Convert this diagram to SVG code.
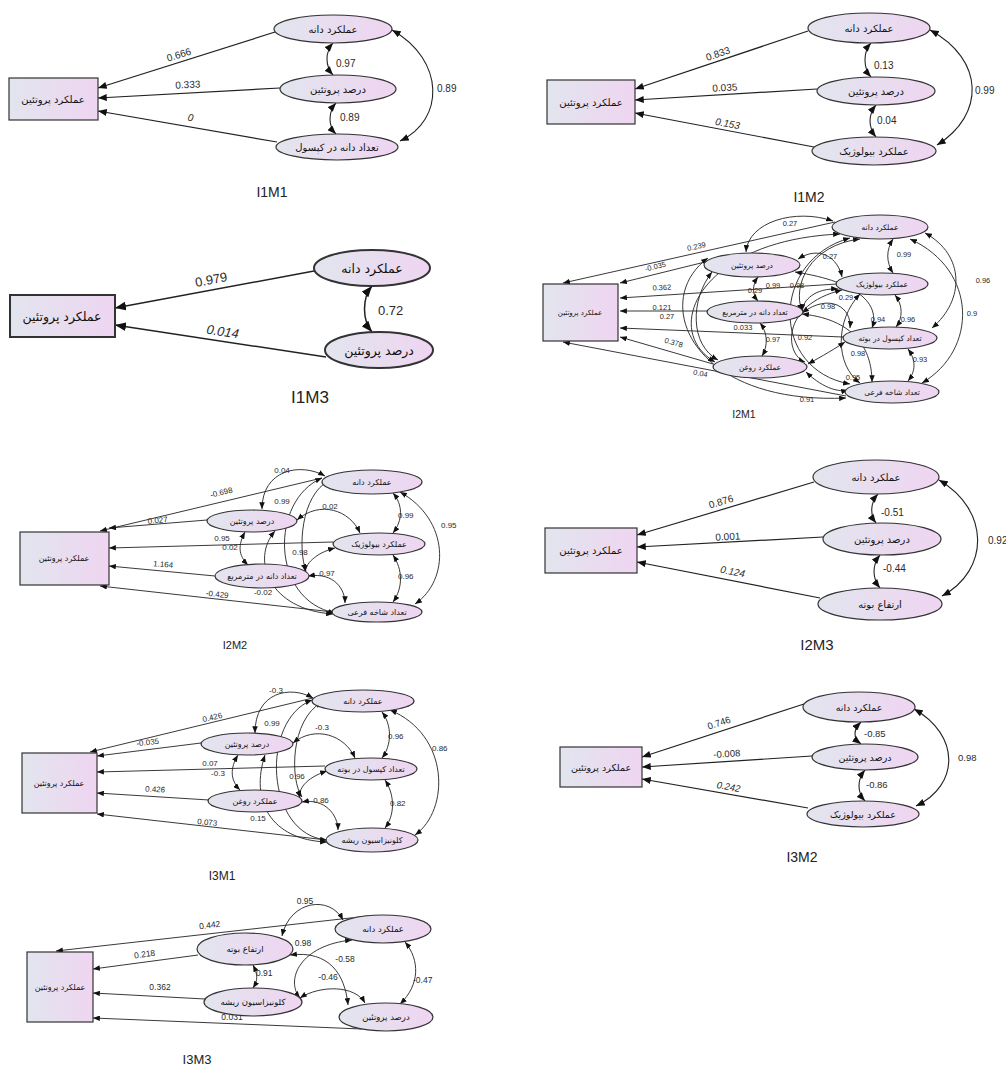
<svg xmlns="http://www.w3.org/2000/svg" width="1006" height="1073" viewBox="0 0 1006 1073">
<defs>
<linearGradient id="g" x1="0" y1="0" x2="1" y2="0">
<stop offset="0" stop-color="#e2e5ee"/>
<stop offset="1" stop-color="#efd5f1"/>
</linearGradient>
<marker id="ah" viewBox="0 0 10 8" refX="10" refY="4" markerWidth="9" markerHeight="7" orient="auto-start-reverse" markerUnits="userSpaceOnUse"><path d="M0,0 L10,4 L0,8 z" fill="#111"/></marker>
<marker id="as" viewBox="0 0 10 8" refX="10" refY="4" markerWidth="7" markerHeight="5.5" orient="auto-start-reverse" markerUnits="userSpaceOnUse"><path d="M0,0 L10,4 L0,8 z" fill="#111"/></marker>
<marker id="al" viewBox="0 0 10 8" refX="10" refY="4" markerWidth="11" markerHeight="9" orient="auto-start-reverse" markerUnits="userSpaceOnUse"><path d="M0,0 L10,4 L0,8 z" fill="#111"/></marker>
</defs>
<style>
.n{fill:url(#g);stroke:#333;stroke-width:1.2}
.nb{fill:url(#g);stroke:#333;stroke-width:2}
.fa{font-family:"DejaVu Sans",sans-serif;fill:#111;text-anchor:middle}
.num{font-family:"Liberation Sans",Arial,sans-serif;fill:#2a2a2a;text-anchor:middle}
.s{text-anchor:start}
.it{font-style:italic}
.t{font-family:"Liberation Sans",Arial,sans-serif;fill:#222;text-anchor:middle}
.r{fill:none;stroke:#222;stroke-width:1.2;marker-end:url(#ah)}
.c{fill:none;stroke:#222;stroke-width:1.1;marker-start:url(#ah);marker-end:url(#ah)}
.rs{fill:none;stroke:#222;stroke-width:0.9;marker-end:url(#as)}
.cs{fill:none;stroke:#222;stroke-width:0.9;marker-start:url(#as);marker-end:url(#as)}
.rl{fill:none;stroke:#222;stroke-width:1.5;marker-end:url(#al)}
.cl{fill:none;stroke:#222;stroke-width:1.5;marker-start:url(#al);marker-end:url(#al)}
</style>
<rect width="1006" height="1073" fill="#ffffff"/>

<!-- ===== I1M1 ===== -->
<g id="I1M1">
<g id="I1M1-connectors">
<path class="r" d="M275,32 L98,88"/>
<path class="r" d="M280,88 L98,98"/>
<path class="r" d="M277,142 L98,111"/>
<path class="c" d="M333,43 C325,52 325,66 333,75"/>
<path class="c" d="M336,103 C328,112 328,126 336,134"/>
<path class="c" d="M392,30 C445,60 445,120 400,141"/>
<g font-size="10" class="num">
<text x="180" y="58" transform="rotate(-17.6 180 58)">0.666</text>
<text x="188" y="88" transform="rotate(-3 188 88)">0.333</text>
<text x="190" y="121" class="it" transform="rotate(10 190 121)">0</text>
<text x="336" y="67" class="s">0.97</text>
<text x="340" y="121" class="s">0.89</text>
<text x="437" y="92" class="s">0.89</text>
</g>
</g>
<g id="I1M1-out"><rect class="n" x="9" y="78" width="89" height="42"/><text class="fa" x="53" y="103" font-size="10">عملکرد پروتئین</text></g>
<g id="I1M1-e1"><ellipse class="n" cx="333" cy="29" rx="59" ry="14"/><text class="fa" x="333" y="33" font-size="10">عملکرد دانه</text></g>
<g id="I1M1-e2"><ellipse class="n" cx="338" cy="89" rx="58" ry="14"/><text class="fa" x="338" y="93" font-size="10">درصد پروتئین</text></g>
<g id="I1M1-e3"><ellipse class="n" cx="337" cy="147" rx="61" ry="13"/><text class="fa" x="337" y="151" font-size="10">تعداد دانه در کپسول</text></g>
<text class="t" x="272" y="197" font-size="14">I1M1</text>
</g>

<!-- ===== I1M2 ===== -->
<g id="I1M2">
<g id="I1M2-connectors">
<path class="r" d="M808,31 L635,89"/>
<path class="r" d="M817,89 L635,100"/>
<path class="r" d="M814,147 L635,113"/>
<path class="c" d="M871,43 C863,52 863,68 871,77"/>
<path class="c" d="M876,105 C868,115 868,127 876,137"/>
<path class="c" d="M930,30 C985,60 985,115 937,145"/>
<g font-size="10" class="num">
<text x="719" y="57" transform="rotate(-18.5 719 57)">0.833</text>
<text x="725" y="91" transform="rotate(-3 725 91)">0.035</text>
<text x="727" y="127" class="it" transform="rotate(10 727 127)">0.153</text>
<text x="874" y="69" class="s">0.13</text>
<text x="877" y="124" class="s">0.04</text>
<text x="975" y="94" class="s">0.99</text>
</g>
</g>
<g id="I1M2-out"><rect class="n" x="547" y="80" width="88" height="44"/><text class="fa" x="591" y="106" font-size="10">عملکرد پروتئین</text></g>
<g id="I1M2-e1"><ellipse class="n" cx="869" cy="28" rx="61" ry="15"/><text class="fa" x="869" y="32" font-size="10">عملکرد دانه</text></g>
<g id="I1M2-e2"><ellipse class="n" cx="876" cy="91" rx="59" ry="14"/><text class="fa" x="876" y="95" font-size="10">درصد پروتئین</text></g>
<g id="I1M2-e3"><ellipse class="n" cx="874" cy="151" rx="62" ry="14"/><text class="fa" x="874" y="155" font-size="10">عملکرد بیولوژیک</text></g>
<text class="t" x="809" y="202" font-size="14">I1M2</text>
</g>

<!-- ===== I1M3 ===== -->
<g id="I1M3">
<g id="I1M3-connectors">
<path class="rl" d="M314,271 L115,308"/>
<path class="rl" d="M326,357 L115,325"/>
<path class="cl" d="M372,286 C362,298 362,320 372,332"/>
<g font-size="13" class="num">
<text x="212" y="284" transform="rotate(-10.5 212 284)">0.979</text>
<text x="222" y="336" class="it" transform="rotate(8.7 222 336)">0.014</text>
<text x="378" y="315" class="s">0.72</text>
</g>
</g>
<g id="I1M3-out"><rect class="nb" x="10" y="295" width="105" height="42"/><text class="fa" x="62" y="321" font-size="12.5">عملکرد پروتئین</text></g>
<g id="I1M3-e1"><ellipse class="nb" cx="372" cy="268" rx="58" ry="18"/><text class="fa" x="372" y="273" font-size="12.5">عملکرد دانه</text></g>
<g id="I1M3-e2"><ellipse class="nb" cx="379" cy="350" rx="54" ry="18"/><text class="fa" x="379" y="355" font-size="12.5">درصد پروتئین</text></g>
<text class="t" x="310" y="403" font-size="17">I1M3</text>
</g>

<!-- ===== I2M1 ===== -->
<g id="I2M1">
<g id="I2M1-connectors">
<path class="rs" d="M835,222 L563,283"/>
<path class="rs" d="M705,262 L620,283"/>
<path class="rs" d="M837,284 L620,298"/>
<path class="rs" d="M707,311 L620,311"/>
<path class="rs" d="M843,337 L620,328"/>
<path class="rs" d="M713,364 L620,337"/>
<path class="rs" d="M846,396 L563,342"/>
<path class="cs" d="M833,221 C795,208 748,222 746,252"/>
<path class="cs" d="M893,239 C886,250 886,262 893,273"/>
<path class="cs" d="M925,233 C965,255 965,300 932,328"/>
<path class="cs" d="M910,239 C978,270 978,350 922,383"/>
<path class="cs" d="M758,277 C752,285 752,294 758,301"/>
<path class="cs" d="M798,259 C820,245 838,258 842,277"/>
<path class="cs" d="M760,323 C768,333 768,346 762,356"/>
<path class="cs" d="M895,295 C903,305 903,318 896,327"/>
<path class="cs" d="M908,349 C916,360 916,371 908,381"/>
<path class="cs" d="M860,239 C810,245 792,285 802,311"/>
<path class="cs" d="M838,289 C815,288 803,300 802,311"/>
<path class="cs" d="M802,313 C830,292 852,308 850,328"/>
<path class="cs" d="M795,272 C860,282 880,305 872,328"/>
<path class="cs" d="M708,258 C650,300 690,405 846,398"/>
<path class="cs" d="M806,372 C825,390 840,392 848,390"/>
<path class="cs" d="M840,234 C700,240 660,330 715,362"/>
<path class="cs" d="M712,272 C690,300 690,345 718,360"/>
<path class="cs" d="M842,290 C780,305 785,355 805,362"/>
<path class="cs" d="M802,314 C860,320 872,355 872,382"/>
<path class="cs" d="M845,342 C830,352 815,360 808,364"/>
<path class="cs" d="M860,294 C835,320 835,365 860,383"/>
<path class="cs" d="M850,238 C770,260 770,370 850,384"/>
<g font-size="7.5" class="num">
<text x="790" y="226">0.27</text>
<text x="697" y="249" transform="rotate(-12.6 697 249)">0.239</text>
<text x="656" y="269" transform="rotate(-14 656 269)">-0.035</text>
<text x="785" y="264">0.97</text>
<text x="830" y="259">0.27</text>
<text x="904" y="257">0.99</text>
<text x="983" y="283">0.96</text>
<text x="662" y="290" transform="rotate(-3.5 662 290)">0.362</text>
<text x="773" y="288">0.99</text>
<text x="797" y="288">0.98</text>
<text x="755" y="293">0.29</text>
<text x="846" y="300">0.29</text>
<text x="662" y="310">0.121</text>
<text x="667" y="319">0.27</text>
<text x="828" y="309">0.98</text>
<text x="878" y="322">0.94</text>
<text x="908" y="322">0.96</text>
<text x="972" y="316">0.9</text>
<text x="743" y="330">0.033</text>
<text x="805" y="340">0.92</text>
<text x="773" y="342">0.97</text>
<text x="673" y="345" transform="rotate(16 673 345)">0.378</text>
<text x="858" y="356">0.98</text>
<text x="920" y="362">0.93</text>
<text x="700" y="376" transform="rotate(11 700 376)">0.04</text>
<text x="853" y="380">0.95</text>
<text x="807" y="402">0.91</text>
</g>
</g>
<g id="I2M1-out"><rect class="n" x="543" y="284" width="75" height="57"/><text class="fa" x="580" y="315" font-size="7">عملکرد پروتئین</text></g>
<g id="I2M1-a"><ellipse class="n" cx="880" cy="227" rx="48" ry="12"/><text class="fa" x="880" y="230" font-size="7.5">عملکرد دانه</text></g>
<g id="I2M1-b"><ellipse class="n" cx="752" cy="265" rx="48" ry="12"/><text class="fa" x="752" y="268" font-size="7.5">درصد پروتئین</text></g>
<g id="I2M1-c"><ellipse class="n" cx="882" cy="284" rx="46" ry="11"/><text class="fa" x="882" y="287" font-size="7.5">عملکرد بیولوژیک</text></g>
<g id="I2M1-d"><ellipse class="n" cx="755" cy="312" rx="48" ry="11"/><text class="fa" x="755" y="315" font-size="7.5">تعداد دانه در مترمربع</text></g>
<g id="I2M1-e"><ellipse class="n" cx="890" cy="338" rx="47" ry="11"/><text class="fa" x="890" y="341" font-size="7.5">تعداد کپسول در بوته</text></g>
<g id="I2M1-f"><ellipse class="n" cx="760" cy="367" rx="47" ry="11"/><text class="fa" x="760" y="370" font-size="7.5">عملکرد روغن</text></g>
<g id="I2M1-g"><ellipse class="n" cx="892" cy="392" rx="47" ry="11"/><text class="fa" x="892" y="395" font-size="7.5">تعداد شاخه فرعی</text></g>
<text class="t" x="744" y="418" font-size="10.5">I2M1</text>
</g>

<!-- ===== I2M2 ===== -->
<g id="I2M2">
<g id="I2M2-connectors">
<path class="rs" d="M322,478 L100,531"/>
<path class="rs" d="M207,520 L109,528"/>
<path class="rs" d="M333,542 L109,548"/>
<path class="rs" d="M215,576 L109,566"/>
<path class="rs" d="M333,612 L100,586"/>
<path class="cs" d="M325,476 C300,462 262,470 262,509"/>
<path class="cs" d="M393,493 C403,505 403,520 393,533"/>
<path class="cs" d="M400,492 C450,520 450,580 415,604"/>
<path class="cs" d="M297,520 C320,500 350,510 360,533"/>
<path class="cs" d="M245,532 C238,545 238,555 248,565"/>
<path class="cs" d="M393,555 C403,570 403,588 393,602"/>
<path class="cs" d="M322,478 C270,500 270,600 335,613"/>
<path class="cs" d="M335,548 C315,553 305,565 305,572"/>
<path class="cs" d="M308,576 C335,572 345,590 345,603"/>
<path class="cs" d="M275,531 C250,560 270,610 333,614"/>
<path class="cs" d="M330,480 C300,495 298,550 306,571"/>
<g font-size="8" class="num">
<text x="222" y="495" transform="rotate(-13.4 222 495)">-0.698</text>
<text x="158" y="523" transform="rotate(-6 158 523)">0.027</text>
<text x="222" y="541">0.95</text>
<text x="163" y="567" transform="rotate(5 163 567)">1.164</text>
<text x="217" y="597" transform="rotate(6.4 217 597)">-0.429</text>
<text x="282" y="473">0.04</text>
<text x="282" y="504">0.99</text>
<text x="330" y="509">0.02</text>
<text x="398" y="518" class="s">0.99</text>
<text x="441" y="528" class="s">0.95</text>
<text x="230" y="550">0.02</text>
<text x="300" y="555">0.98</text>
<text x="327" y="576">0.97</text>
<text x="398" y="579" class="s">0.96</text>
<text x="263" y="595">-0.02</text>
</g>
</g>
<g id="I2M2-out"><rect class="n" x="20" y="532" width="89" height="53"/><text class="fa" x="64" y="561" font-size="8">عملکرد پروتئین</text></g>
<g id="I2M2-a"><ellipse class="n" cx="372" cy="482" rx="50" ry="12"/><text class="fa" x="372" y="485" font-size="8">عملکرد دانه</text></g>
<g id="I2M2-b"><ellipse class="n" cx="252" cy="521" rx="45" ry="11"/><text class="fa" x="252" y="524" font-size="8">درصد پروتئین</text></g>
<g id="I2M2-c"><ellipse class="n" cx="379" cy="544" rx="46" ry="11"/><text class="fa" x="379" y="547" font-size="8">عملکرد بیولوژیک</text></g>
<g id="I2M2-d"><ellipse class="n" cx="262" cy="576" rx="47" ry="12"/><text class="fa" x="262" y="579" font-size="8">تعداد دانه در مترمربع</text></g>
<g id="I2M2-e"><ellipse class="n" cx="377" cy="612" rx="45" ry="10"/><text class="fa" x="377" y="615" font-size="8">تعداد شاخه فرعی</text></g>
<text class="t" x="235" y="649" font-size="11">I2M2</text>
</g>

<!-- ===== I2M3 ===== -->
<g id="I2M3">
<g id="I2M3-connectors">
<path class="r" d="M814,482 L637,535"/>
<path class="r" d="M823,537 L637,547"/>
<path class="r" d="M820,598 L637,562"/>
<path class="c" d="M878,494 C870,503 870,515 876,523"/>
<path class="c" d="M880,555 C872,565 872,578 880,588"/>
<path class="c" d="M939,480 C990,510 990,570 942,596"/>
<g font-size="10" class="num">
<text x="722" y="505" transform="rotate(-16.7 722 505)">0.876</text>
<text x="728" y="540" transform="rotate(-3 728 540)">0.001</text>
<text x="732" y="575" class="it" transform="rotate(11 732 575)">0.124</text>
<text x="881" y="516" class="s">-0.51</text>
<text x="883" y="572" class="s">-0.44</text>
<text x="988" y="544" class="s">0.92</text>
</g>
</g>
<g id="I2M3-out"><rect class="n" x="545" y="528" width="92" height="45"/><text class="fa" x="591" y="554" font-size="10">عملکرد پروتئین</text></g>
<g id="I2M3-a"><ellipse class="n" cx="876" cy="477" rx="63" ry="17"/><text class="fa" x="876" y="481" font-size="10">عملکرد دانه</text></g>
<g id="I2M3-b"><ellipse class="n" cx="882" cy="539" rx="59" ry="16"/><text class="fa" x="882" y="543" font-size="10">درصد پروتئین</text></g>
<g id="I2M3-c"><ellipse class="n" cx="880" cy="604" rx="62" ry="16"/><text class="fa" x="880" y="608" font-size="10">ارتفاع بوته</text></g>
<text class="t" x="817" y="650" font-size="15">I2M3</text>
</g>

<!-- ===== I3M1 ===== -->
<g id="I3M1">
<g id="I3M1-connectors">
<path class="rs" d="M313,698 L90,752"/>
<path class="rs" d="M201,743 L97,756"/>
<path class="rs" d="M325,766 L97,772"/>
<path class="rs" d="M209,800 L97,793"/>
<path class="rs" d="M327,840 L97,814"/>
<path class="cs" d="M313,698 C290,685 255,692 255,733"/>
<path class="cs" d="M382,712 C392,725 392,745 382,758"/>
<path class="cs" d="M390,710 C450,735 450,810 415,835"/>
<path class="cs" d="M293,743 C315,725 345,735 355,758"/>
<path class="cs" d="M238,755 C230,768 230,780 240,790"/>
<path class="cs" d="M385,780 C395,795 395,815 385,828"/>
<path class="cs" d="M312,700 C260,720 265,835 327,840"/>
<path class="cs" d="M327,771 C305,778 298,790 300,798"/>
<path class="cs" d="M302,802 C325,798 338,815 338,830"/>
<path class="cs" d="M265,755 C250,800 270,840 327,842"/>
<path class="cs" d="M322,702 C290,720 290,780 302,797"/>
<g font-size="8" class="num">
<text x="213" y="720" transform="rotate(-13.6 213 720)">0.426</text>
<text x="148" y="745" transform="rotate(-6 148 745)">-0.035</text>
<text x="210" y="766">0.07</text>
<text x="155" y="792" transform="rotate(3.5 155 792)">0.426</text>
<text x="207" y="825" transform="rotate(6 207 825)">0.073</text>
<text x="276" y="693">-0.3</text>
<text x="272" y="726">0.99</text>
<text x="322" y="730">-0.3</text>
<text x="388" y="739" class="s">0.96</text>
<text x="432" y="751" class="s">0.86</text>
<text x="218" y="776">-0.3</text>
<text x="297" y="779">0.96</text>
<text x="321" y="803">0.86</text>
<text x="390" y="806" class="s">0.82</text>
<text x="258" y="821">0.15</text>
</g>
</g>
<g id="I3M1-out"><rect class="n" x="22" y="753" width="75" height="60"/><text class="fa" x="59" y="786" font-size="8">عملکرد پروتئین</text></g>
<g id="I3M1-a"><ellipse class="n" cx="363" cy="701" rx="51" ry="11"/><text class="fa" x="363" y="704" font-size="8">عملکرد دانه</text></g>
<g id="I3M1-b"><ellipse class="n" cx="247" cy="744" rx="46" ry="11"/><text class="fa" x="247" y="747" font-size="8">درصد پروتئین</text></g>
<g id="I3M1-c"><ellipse class="n" cx="371" cy="769" rx="46" ry="11"/><text class="fa" x="371" y="772" font-size="8">تعداد کپسول در بوته</text></g>
<g id="I3M1-d"><ellipse class="n" cx="255" cy="801" rx="47" ry="11"/><text class="fa" x="255" y="804" font-size="8">عملکرد روغن</text></g>
<g id="I3M1-e"><ellipse class="n" cx="372" cy="840" rx="46" ry="12"/><text class="fa" x="372" y="843" font-size="8">کلونیزاسیون ریشه</text></g>
<text class="t" x="222" y="880" font-size="12">I3M1</text>
</g>

<!-- ===== I3M2 ===== -->
<g id="I3M2">
<g id="I3M2-connectors">
<path class="r" d="M804,704 L642,757"/>
<path class="r" d="M812,756 L642,767"/>
<path class="r" d="M808,808 L642,779"/>
<path class="c" d="M861,722 C853,730 853,738 861,744"/>
<path class="c" d="M865,770 C857,780 857,792 865,801"/>
<path class="c" d="M914,709 C960,735 960,785 916,806"/>
<g font-size="9.5" class="num">
<text x="720" y="726" transform="rotate(-18.5 720 726)">0.746</text>
<text x="727" y="757" transform="rotate(-3.5 727 757)">-0.008</text>
<text x="728" y="790" class="it" transform="rotate(10 728 790)">0.242</text>
<text x="864" y="737" class="s">-0.85</text>
<text x="866" y="788" class="s">-0.86</text>
<text x="958" y="761" class="s">0.98</text>
</g>
</g>
<g id="I3M2-out"><rect class="n" x="560" y="747" width="82" height="40"/><text class="fa" x="601" y="771" font-size="9.5">عملکرد پروتئین</text></g>
<g id="I3M2-a"><ellipse class="n" cx="859" cy="707" rx="56" ry="15"/><text class="fa" x="859" y="711" font-size="9.5">عملکرد دانه</text></g>
<g id="I3M2-b"><ellipse class="n" cx="865" cy="757" rx="53" ry="13"/><text class="fa" x="865" y="761" font-size="9.5">درصد پروتئین</text></g>
<g id="I3M2-c"><ellipse class="n" cx="863" cy="814" rx="56" ry="13"/><text class="fa" x="863" y="818" font-size="9.5">عملکرد بیولوژیک</text></g>
<text class="t" x="802" y="862" font-size="14">I3M2</text>
</g>

<!-- ===== I3M3 ===== -->
<g id="I3M3">
<g id="I3M3-connectors">
<path class="rs" d="M368,916 L56,951"/>
<path class="rs" d="M198,955 L93,969"/>
<path class="rs" d="M205,999 L93,993"/>
<path class="rs" d="M362,1029 L93,1018"/>
<path class="cs" d="M282,936 C290,900 330,895 343,920"/>
<path class="cs" d="M352,940 C300,945 285,980 300,998"/>
<path class="cs" d="M290,955 C330,950 345,975 348,1005"/>
<path class="cs" d="M300,998 C320,985 355,985 365,1003"/>
<path class="cs" d="M405,942 C420,960 420,985 400,1004"/>
<path class="cs" d="M253,965 C258,975 258,980 253,988"/>
<g font-size="8.5" class="num">
<text x="210" y="928" transform="rotate(-6.4 210 928)">0.442</text>
<text x="145" y="957" transform="rotate(-7.6 145 957)">0.218</text>
<text x="160" y="990">0.362</text>
<text x="232" y="1020">0.031</text>
<text x="305" y="904">0.95</text>
<text x="303" y="946">0.98</text>
<text x="345" y="962">-0.58</text>
<text x="328" y="980">-0.46</text>
<text x="413" y="983" class="s">-0.47</text>
<text x="256" y="976" class="s">0.91</text>
</g>
</g>
<g id="I3M3-out"><rect class="n" x="27" y="952" width="66" height="70"/><text class="fa" x="60" y="990" font-size="8">عملکرد پروتئین</text></g>
<g id="I3M3-a"><ellipse class="n" cx="383" cy="929" rx="48" ry="14"/><text class="fa" x="383" y="932" font-size="8.5">عملکرد دانه</text></g>
<g id="I3M3-b"><ellipse class="n" cx="245" cy="949" rx="48" ry="16"/><text class="fa" x="245" y="952" font-size="8.5">ارتفاع بوته</text></g>
<g id="I3M3-c"><ellipse class="n" cx="253" cy="1002" rx="49" ry="14"/><text class="fa" x="253" y="1005" font-size="8.5">کلونیزاسیون ریشه</text></g>
<g id="I3M3-d"><ellipse class="n" cx="386" cy="1017" rx="47" ry="14"/><text class="fa" x="386" y="1020" font-size="8.5">درصد پروتئین</text></g>
<text class="t" x="197" y="1064" font-size="13">I3M3</text>
</g>
</svg>
